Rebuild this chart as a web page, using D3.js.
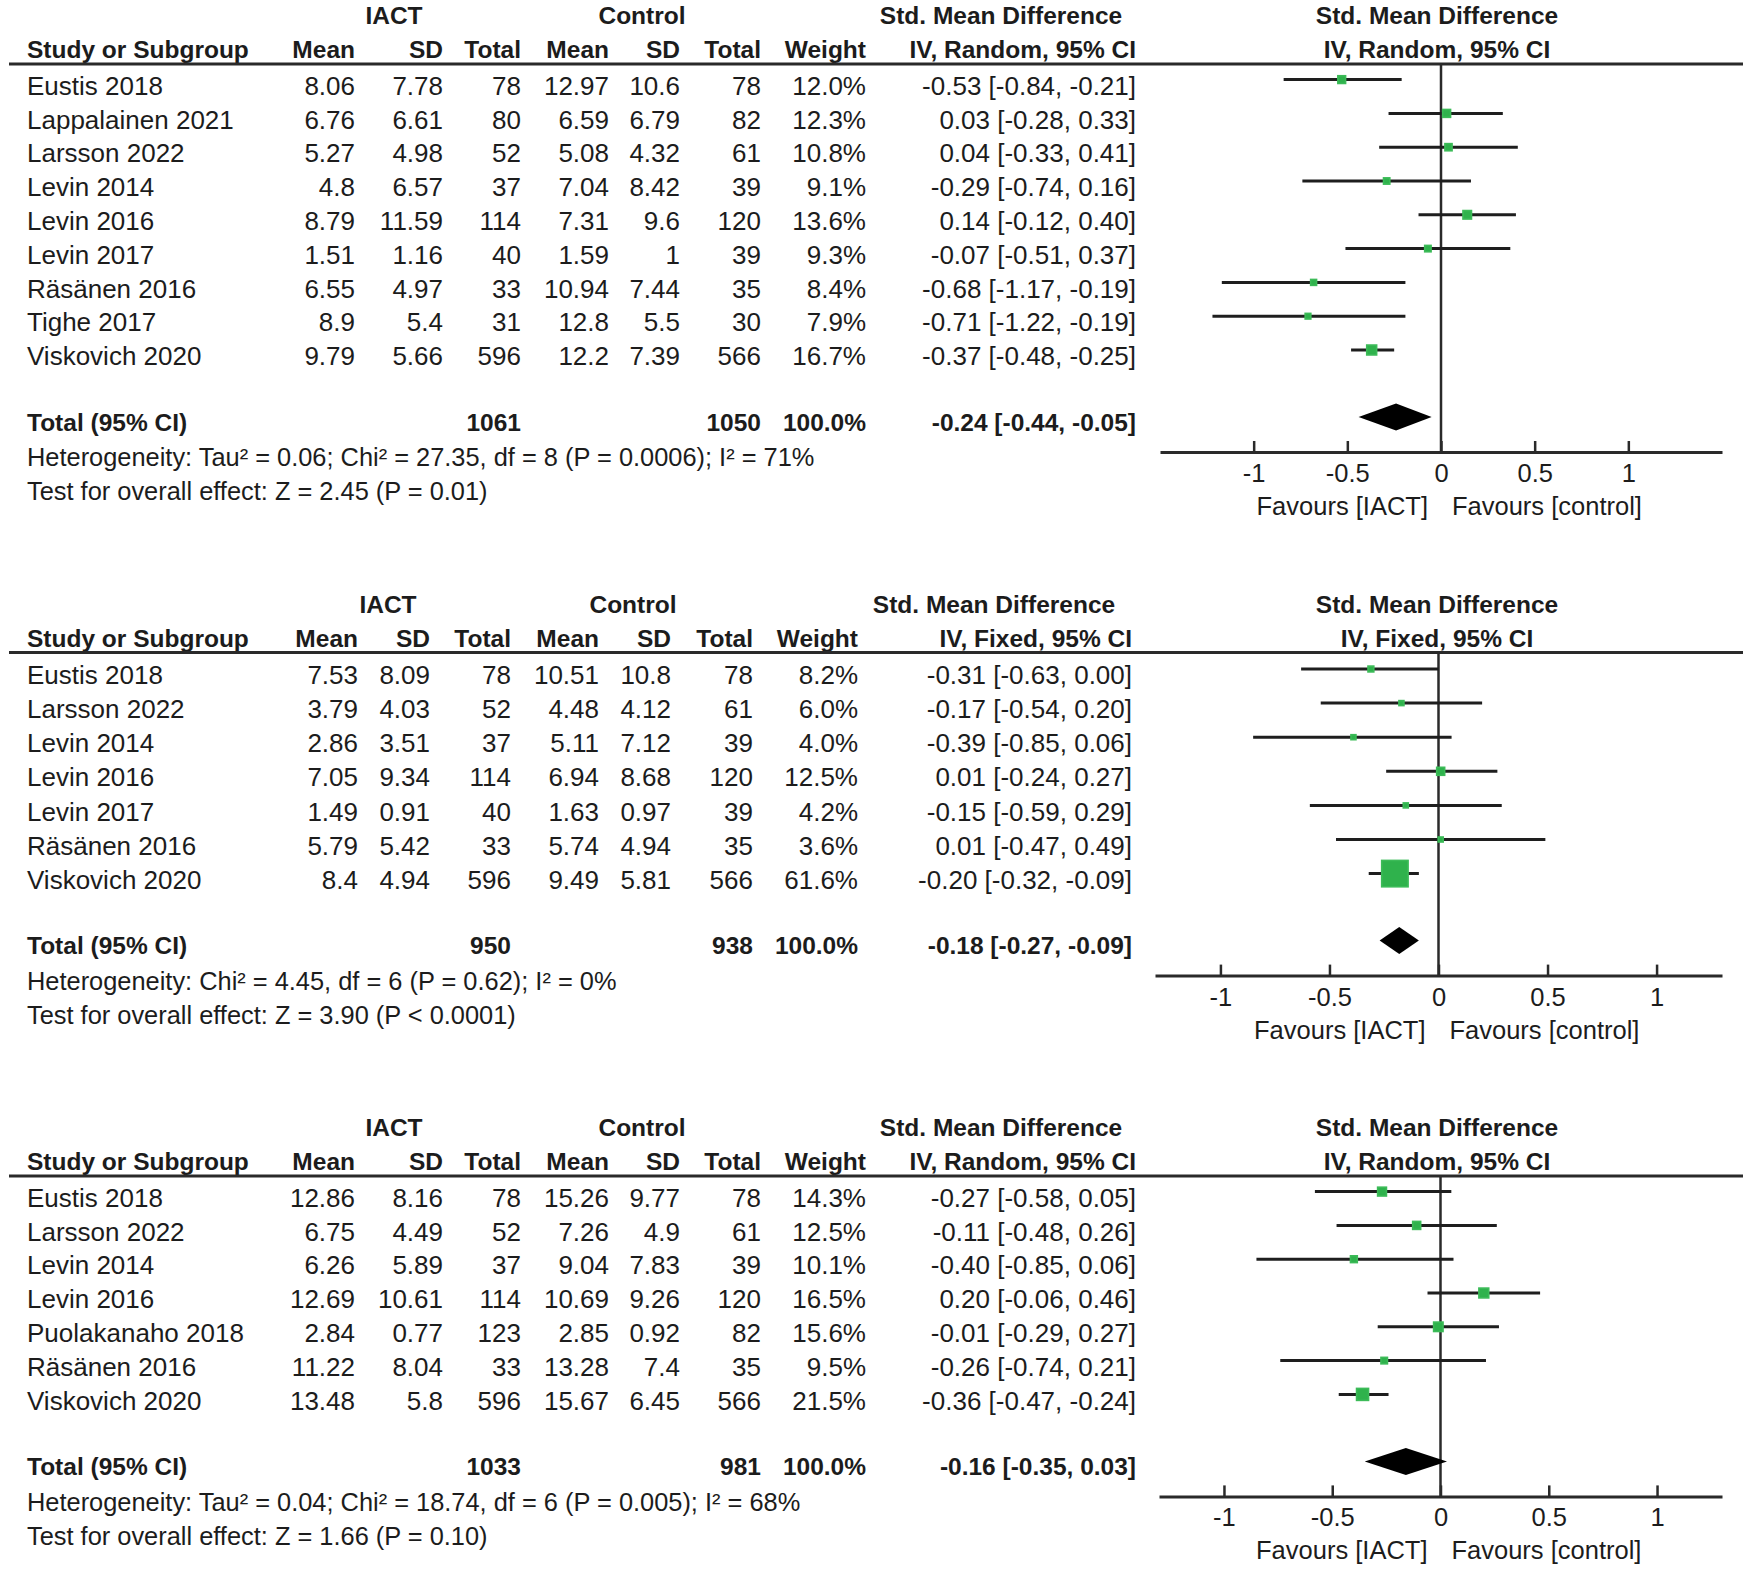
<!DOCTYPE html>
<html><head><meta charset="utf-8">
<script src="https://cdn.jsdelivr.net/npm/d3@7/dist/d3.min.js"></script>
<style>
body{margin:0;background:#fff}
text{font-family:"Liberation Sans",Arial,sans-serif;fill:#1c1c1c}
.b{font-weight:bold}
</style>
</head><body>
<svg id="c" width="1750" height="1570"></svg>
<script>
// ---------- Panel 1 (IV, Random) ----------
const studies1 = ["Eustis 2018","Lappalainen 2021","Larsson 2022","Levin 2014","Levin 2016","Levin 2017","Räsänen 2016","Tighe 2017","Viskovich 2020"];
const iactMean1 = [8.06,6.76,5.27,4.8,8.79,1.51,6.55,8.9,9.79];
const iactSD1   = [7.78,6.61,4.98,6.57,11.59,1.16,4.97,5.4,5.66];
const iactN1    = [78,80,52,37,114,40,33,31,596];
const ctrlMean1 = [12.97,6.59,5.08,7.04,7.31,1.59,10.94,12.8,12.2];
const ctrlSD1   = [10.6,6.79,4.32,8.42,9.6,1,7.44,5.5,7.39];
const ctrlN1    = [78,82,61,39,120,39,35,30,566];
const weight1   = [12.0,12.3,10.8,9.1,13.6,9.3,8.4,7.9,16.7];
const smd1      = [-0.53,0.03,0.04,-0.29,0.14,-0.07,-0.68,-0.71,-0.37];
const lo1       = [-0.84,-0.28,-0.33,-0.74,-0.12,-0.51,-1.17,-1.22,-0.48];
const hi1       = [-0.21,0.33,0.41,0.16,0.40,0.37,-0.19,-0.19,-0.25];
const total1    = {nI:1061, nC:1050, w:100.0, est:-0.24, lo:-0.44, hi:-0.05};
const het1  = "Heterogeneity: Tau² = 0.06; Chi² = 27.35, df = 8 (P = 0.0006); I² = 71%";
const test1 = "Test for overall effect: Z = 2.45 (P = 0.01)";

// ---------- Panel 2 (IV, Fixed) ----------
const studies2 = ["Eustis 2018","Larsson 2022","Levin 2014","Levin 2016","Levin 2017","Räsänen 2016","Viskovich 2020"];
const iactMean2 = [7.53,3.79,2.86,7.05,1.49,5.79,8.4];
const iactSD2   = [8.09,4.03,3.51,9.34,0.91,5.42,4.94];
const iactN2    = [78,52,37,114,40,33,596];
const ctrlMean2 = [10.51,4.48,5.11,6.94,1.63,5.74,9.49];
const ctrlSD2   = [10.8,4.12,7.12,8.68,0.97,4.94,5.81];
const ctrlN2    = [78,61,39,120,39,35,566];
const weight2   = [8.2,6.0,4.0,12.5,4.2,3.6,61.6];
const smd2      = [-0.31,-0.17,-0.39,0.01,-0.15,0.01,-0.20];
const lo2       = [-0.63,-0.54,-0.85,-0.24,-0.59,-0.47,-0.32];
const hi2       = [0.00,0.20,0.06,0.27,0.29,0.49,-0.09];
const total2    = {nI:950, nC:938, w:100.0, est:-0.18, lo:-0.27, hi:-0.09};
const het2  = "Heterogeneity: Chi² = 4.45, df = 6 (P = 0.62); I² = 0%";
const test2 = "Test for overall effect: Z = 3.90 (P < 0.0001)";

// ---------- Panel 3 (IV, Random) ----------
const studies3 = ["Eustis 2018","Larsson 2022","Levin 2014","Levin 2016","Puolakanaho 2018","Räsänen 2016","Viskovich 2020"];
const iactMean3 = [12.86,6.75,6.26,12.69,2.84,11.22,13.48];
const iactSD3   = [8.16,4.49,5.89,10.61,0.77,8.04,5.8];
const iactN3    = [78,52,37,114,123,33,596];
const ctrlMean3 = [15.26,7.26,9.04,10.69,2.85,13.28,15.67];
const ctrlSD3   = [9.77,4.9,7.83,9.26,0.92,7.4,6.45];
const ctrlN3    = [78,61,39,120,82,35,566];
const weight3   = [14.3,12.5,10.1,16.5,15.6,9.5,21.5];
const smd3      = [-0.27,-0.11,-0.40,0.20,-0.01,-0.26,-0.36];
const lo3       = [-0.58,-0.48,-0.85,-0.06,-0.29,-0.74,-0.47];
const hi3       = [0.05,0.26,0.06,0.46,0.27,0.21,-0.24];
const total3    = {nI:1033, nC:981, w:100.0, est:-0.16, lo:-0.35, hi:0.03};
const het3  = "Heterogeneity: Tau² = 0.04; Chi² = 18.74, df = 6 (P = 0.005); I² = 68%";
const test3 = "Test for overall effect: Z = 1.66 (P = 0.10)";

const methods = ["IV, Random, 95% CI","IV, Fixed, 95% CI","IV, Random, 95% CI"];
const axisExtent = [1.5, 1.3, 1.3];
const tickValues = [-1,-0.5,0,0.5,1];
const groupLabels = ["IACT","Control","Std. Mean Difference"];
const colHeaders = ["Mean","SD","Total","Mean","SD","Total","Weight"];
const favourLabels = ["Favours [IACT]","Favours [control]"];

// ---------- build ----------
const panels = [
  {studies:studies1, cols:[iactMean1,iactSD1,iactN1,ctrlMean1,ctrlSD1,ctrlN1], w:weight1, smd:smd1, lo:lo1, hi:hi1, total:total1, het:het1, test:test1},
  {studies:studies2, cols:[iactMean2,iactSD2,iactN2,ctrlMean2,ctrlSD2,ctrlN2], w:weight2, smd:smd2, lo:lo2, hi:hi2, total:total2, het:het2, test:test2},
  {studies:studies3, cols:[iactMean3,iactSD3,iactN3,ctrlMean3,ctrlSD3,ctrlN3], w:weight3, smd:smd3, lo:lo3, hi:hi3, total:total3, het:het3, test:test3}
];
panels.forEach((p,i)=>{p.method=methods[i]; p.ext=axisExtent[i];});

// layout (styling only)
const colXA = [355,443,521,609,680,761,866,1136];
const colXB = [358,430,511,599,671,753,858,1132];
const grpXA = [394,642,1001];
const grpXB = [388,633,994];
const plotRanges = [[1160,1722],[1155,1722],[1159,1722]];
const rowSteps = [33.8, 34.1, 33.8];
const rowStarts = [70, 71, 70];
const FS = 26, FSB = 24.5, FSH = 25.4;
const f2 = d => d.toFixed(2);

const svg = d3.select("#c");
let y0 = 15.6;

panels.forEach((p, pi) => {
  const colX = pi === 1 ? colXB : colXA;
  const grpX = pi === 1 ? grpXB : grpXA;
  const g = svg.append("g");
  const x = d3.scaleLinear().domain([-p.ext, p.ext]).range(plotRanges[pi]);
  const hdr1 = y0, hdr2 = y0 + 34, lineY = y0 + 48.5;
  const rowY = i => y0 + rowStarts[pi] + i * rowSteps[pi];
  const n = p.studies.length;
  const totY = rowY(n - 1) + 66;
  const hetY = totY + 35.5, testY = hetY + 34;
  const axisY = totY + 30;
  const fx = x(0);

  const txt = (s, xx, yy, anchor, bold, size) => g.append("text")
    .attr("x", xx).attr("y", yy).attr("dy", "0.35em")
    .attr("text-anchor", anchor || "start")
    .attr("class", bold ? "b" : null)
    .style("font-size", (size || (bold ? FSB : FS)) + "px")
    .text(s);

  // group headers
  groupLabels.forEach((s, k) => txt(s, grpX[k], hdr1, "middle", true));
  txt("Std. Mean Difference", 1437, hdr1, "middle", true);
  txt("Study or Subgroup", 27, hdr2, "start", true);
  colHeaders.forEach((s, k) => txt(s, colX[k], hdr2, "end", true));
  txt(p.method, colX[7], hdr2, "end", true);
  txt(p.method, 1437, hdr2, "middle", true);

  g.append("line").attr("x1", 9).attr("x2", 1743).attr("y1", lineY).attr("y2", lineY)
    .attr("stroke", "#2a2a2a").attr("stroke-width", 3);

  // study rows
  p.studies.forEach((s, i) => {
    const yy = rowY(i);
    txt(s, 27, yy, "start");
    p.cols.forEach((c, k) => txt(String(c[i]), colX[k], yy, "end"));
    txt(p.w[i].toFixed(1) + "%", colX[6], yy, "end");
    txt(`${f2(p.smd[i])} [${f2(p.lo[i])}, ${f2(p.hi[i])}]`, colX[7], yy, "end");
  });

  // totals
  txt("Total (95% CI)", 27, totY, "start", true);
  txt(String(p.total.nI), colX[2], totY, "end", true);
  txt(String(p.total.nC), colX[5], totY, "end", true);
  txt(p.total.w.toFixed(1) + "%", colX[6], totY, "end", true);
  txt(`${f2(p.total.est)} [${f2(p.total.lo)}, ${f2(p.total.hi)}]`, colX[7], totY, "end", true);
  txt(p.het, 27, hetY, "start", false, FSH);
  txt(p.test, 27, testY, "start", false, FSH);

  // zero line
  g.append("line").attr("x1", fx).attr("x2", fx).attr("y1", lineY).attr("y2", axisY)
    .attr("stroke", "#2a2a2a").attr("stroke-width", 2.5);

  // CIs and squares
  p.studies.forEach((s, i) => {
    const yy = rowY(i) - 6;
    g.append("line").attr("x1", x(p.lo[i])).attr("x2", x(p.hi[i])).attr("y1", yy).attr("y2", yy)
      .attr("stroke", "#1e1e1e").attr("stroke-width", 3);
    const side = Math.max(5, 1.2 * Math.pow(p.w[i], 0.75));
    g.append("rect").attr("x", x(p.smd[i]) - side / 2).attr("y", yy - side / 2)
      .attr("width", side).attr("height", side).attr("fill", "#2fb24c")
      .attr("stroke", "#3cbb58").attr("stroke-width", 1.6);
  });

  // diamond
  const dy = totY - 5, hh = 13.5;
  g.append("path")
    .attr("d", `M${x(p.total.lo)},${dy}L${x(p.total.est)},${dy - hh}L${x(p.total.hi)},${dy}L${x(p.total.est)},${dy + hh}Z`)
    .attr("fill", "#000");

  // axis
  const ax = d3.axisBottom(x).tickValues(tickValues).tickSize(-11).tickSizeOuter(0)
    .tickPadding(12).tickFormat(d => String(d));
  const ag = g.append("g").attr("transform", `translate(0,${axisY})`).call(ax);
  ag.select(".domain").attr("stroke", "#2a2a2a").attr("stroke-width", 3);
  ag.selectAll(".tick line").attr("stroke", "#2a2a2a").attr("stroke-width", 2.5);
  ag.selectAll(".tick text").style("font-size", "25.5px")
    .style("font-family", '"Liberation Sans",Arial,sans-serif').attr("fill", "#1c1c1c");

  txt(favourLabels[0], fx - 13, axisY + 54, "end", false, 25.5);
  txt(favourLabels[1], fx + 11, axisY + 54, "start", false, 25.5);

  y0 = testY + 112.5;
});
</script>
</body></html>
